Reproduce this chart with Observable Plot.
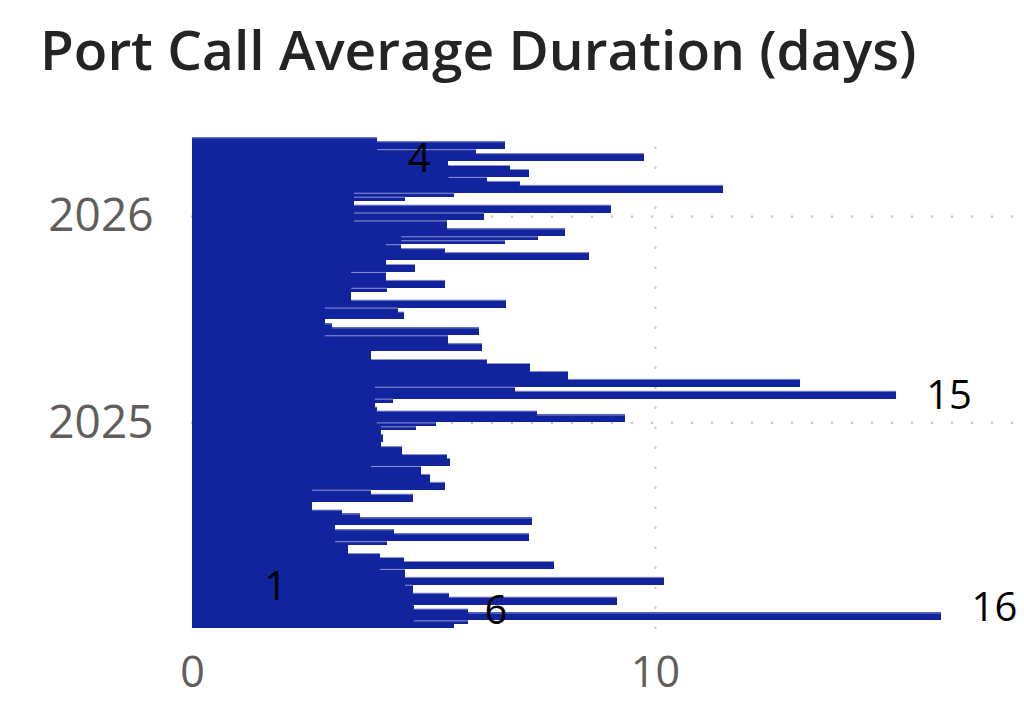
<!DOCTYPE html>
<html>
<head>
<meta charset="utf-8">
<script src="https://cdn.jsdelivr.net/npm/d3@7"></script>
<script src="https://cdn.jsdelivr.net/npm/@observablehq/plot@0.6"></script>
<style>
  html, body { margin: 0; padding: 0; background: #ffffff; }
  body { width: 1024px; height: 702px; overflow: hidden; position: relative; font-family: "Open Sans", sans-serif; }
  #title { position: absolute; left: 40px; top: 21px; font-size: 55px; line-height: 1; font-weight: 600; color: #252423; white-space: nowrap; letter-spacing: 0px; }
  #chart { position: absolute; left: 0; top: 110px; }
</style>
</head>
<body>
<div id="title">Port Call Average Duration (days)</div>
<div id="chart"></div>
<script>
// Weekly periods (start of each bar), chronological
const weekStarts = [
  "2024-01-03","2024-01-10","2024-01-17","2024-01-31","2024-02-07","2024-02-14","2024-02-28","2024-03-06",
  "2024-03-20","2024-04-03","2024-04-17","2024-05-01","2024-05-08","2024-05-15","2024-05-29","2024-06-05",
  "2024-06-19","2024-06-26","2024-07-03","2024-07-17","2024-07-24","2024-07-31","2024-08-14","2024-08-28",
  "2024-09-04","2024-09-18","2024-10-02","2024-10-16","2024-10-30","2024-11-06","2024-11-20","2024-11-27",
  "2024-12-11","2024-12-18","2024-12-25","2025-01-01","2025-01-15","2025-01-22","2025-01-29","2025-02-05",
  "2025-02-12","2025-02-26","2025-03-05","2025-03-19","2025-04-02","2025-04-16","2025-04-23","2025-05-07",
  "2025-05-21","2025-06-04","2025-06-18","2025-06-25","2025-07-02","2025-07-16","2025-07-23","2025-08-06",
  "2025-08-20","2025-08-27","2025-09-10","2025-09-24","2025-10-08","2025-10-15","2025-10-29","2025-11-05",
  "2025-11-12","2025-11-19","2025-11-26","2025-12-10","2025-12-24","2026-01-07","2026-01-21","2026-01-28",
  "2026-02-04","2026-02-11","2026-02-25","2026-03-04","2026-03-11","2026-03-25","2026-04-01","2026-04-08",
  "2026-04-22","2026-04-29","2026-05-13"
];
const lastWeekEnd = "2026-05-20";

// Average port call duration (days) for each period
const avgDays = [
  5.66, 5.97, 16.18, 5.97, 4.79, 9.18, 5.55, 4.77,
  10.19, 4.60, 7.82, 4.58, 4.06, 3.37, 4.21, 7.28,
  4.36, 3.09, 7.35, 3.63, 3.24, 2.59, 4.77, 3.87,
  5.46, 5.14, 4.95, 5.57, 5.51, 4.54, 4.08, 4.12,
  4.08, 4.84, 5.27, 9.35, 7.45, 3.99, 3.95, 4.34,
  15.20, 6.98, 13.13, 8.12, 7.30, 6.37, 3.87, 6.27,
  5.53, 6.20, 3.03, 2.87, 4.58, 4.45, 6.78, 3.44,
  4.21, 5.46, 4.19, 4.82, 4.19, 8.57, 5.46, 4.52,
  6.76, 7.47, 8.06, 5.51, 6.31, 9.05, 3.50, 4.60,
  5.66, 11.48, 7.08, 6.37, 7.28, 6.87, 5.54, 9.76,
  6.14, 6.76, 4.00
];

// Data labels shown on the chart
const labelDates  = ["2024-02-04", "2024-03-17", "2024-02-09", "2025-02-17", "2026-04-13"];
const labelValues = [5.66, 0.9, 16.18, 15.2, 4.0];

// Axis ticks
const xTicks = [0, 10];
const xDomain = [0, 17.8];
const yTickYears = ["2025-01-01", "2026-01-01"];

const bars = weekStarts.map((s, i) => ({
  start: new Date(s),
  end: new Date(i + 1 < weekStarts.length ? weekStarts[i + 1] : lastWeekEnd),
  value: avgDays[i]
}));
// light top edge of each bar, where it is not covered by its neighbours
const seams = bars.map((b, i) => {
  let from;
  if (i + 1 >= bars.length) from = 0;
  else if (bars[i + 1].value < b.value) from = bars[i + 1].value;
  else from = d3.min(bars.slice(Math.max(0, i - 3), i + 4), d => d.value);
  return {end: b.end, value: b.value, from};
}).filter(d => d.value > d.from);
const labels = labelDates.map((d, i) => ({date: new Date(d), value: labelValues[i]}));
const yTickDates = yTickYears.map(d => new Date(d));

const gridStyle = {stroke: "#c8c8c8", strokeOpacity: 1, strokeWidth: 2.6, strokeDasharray: "0,20", strokeLinecap: "round"};

const chart = Plot.plot({
  width: 1024,
  height: 592,
  marginLeft: 192,
  marginRight: 8,
  marginTop: 27.3,
  marginBottom: 73.7,
  style: {fontFamily: "'Open Sans', sans-serif", color: "#605E5C", background: "transparent", overflow: "visible"},
  x: {domain: xDomain},
  y: {type: "utc", domain: [new Date(weekStarts[0]), new Date(lastWeekEnd)]},
  marks: [
    Plot.gridY(yTickDates, gridStyle),
    Plot.gridX(xTicks.filter(v => v > 0), {...gridStyle, strokeDashoffset: 9.6}),
    Plot.rect(bars, {x1: 0, x2: "value", y1: "start", y2: "end", fill: "#12239E", shapeRendering: "crispEdges"}),
    Plot.ruleY(seams, {y: "end", x1: "from", x2: "value", stroke: "#8e97d3", strokeWidth: 1}),
    Plot.text(labels, {x: "value", y: "date", text: d => d3.format(".0f")(d.value), textAnchor: "start", dx: 30, fontSize: 40, fill: "#000000"}),
    Plot.axisY(yTickDates, {tickFormat: d3.utcFormat("%Y"), tickSize: 0, tickPadding: 39, fontSize: 46}),
    Plot.axisX(xTicks, {tickSize: 0, tickPadding: 28, fontSize: 43})
  ]
});
document.getElementById("chart").appendChild(chart);
</script>
</body>
</html>
